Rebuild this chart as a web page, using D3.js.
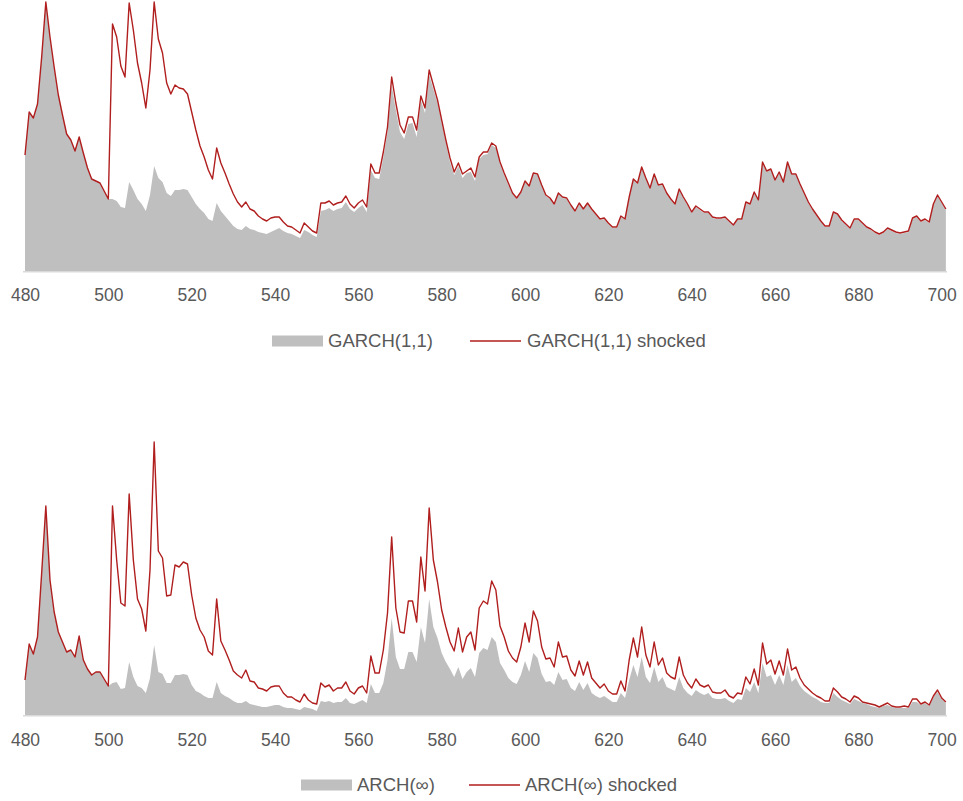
<!DOCTYPE html>
<html>
<head>
<meta charset="utf-8">
<script src="https://cdn.jsdelivr.net/npm/d3@7/dist/d3.min.js"></script>
<style>
  html, body { margin: 0; padding: 0; background: #ffffff; }
  svg { display: block; }
</style>
</head>
<body>
<svg id="chart" width="963" height="801"></svg>
<script>
// ---------------- DATA ----------------
const periodStart = 480;
const periodEnd = 701;
const tickValues = [480, 500, 520, 540, 560, 580, 600, 620, 640, 660, 680, 700];

// Top panel
const garch = [
  116,159,153,167,214,269,234,204,176,156,137,131,120,134,118,103,92,90,88,80,72,
  72,70,64,63,89,81,72,67,60,76,
  105,93,89,78,75,81,81,82,81,74,
  67,62,58,52,50,68,60,55,50,45,
  42,41,45,42,
  41,39,38,37,39,41,43,40,38,37,35,33,41,39,36,34,
  60,61,63,60,62,63,69,62,59,63,66,59,101,93,92,114,139,186,161,139,132,147,148,134,171,158,196,182,168,148,128,109,96,105,93,98,99,90,112,116,117,
  126,123,107,96,86,77,72,78,89,84,
  97,96,85,75,72,66,77,73,72,65,
  59,67,61,67,61,56,51,52,47,43,
  43,54,51,73,91,87,103,92,82,96,
  85,86,77,71,66,81,73,66,58,64,
  61,58,58,53,52,52,53,49,45,51,
  51,68,66,78,70,108,99,101,90,98,
  88,108,96,96,86,77,68,61,55,49,
  44,44,58,56,50,46,42,51,51,47,
  43,41,38,36,38,42,40,38,37,38,
  39,52,54,49,51,48,66,75,68,61
];
const garchShocked = [
  116,159,153,167,214,269,234,204,176,156,137,131,120,134,118,103,92,90,88,80,72,
  247,234,205,194,268,241,208,188,163,201,
  269,232,218,188,177,186,183,182,177,159,
  141,125,114,101,92,123,108,98,87,77,
  69,64,69,62,60,55,52,50,53,54,
  54,49,45,44,41,38,48,44,40,38,
  68,68,70,66,68,69,75,67,63,68,
  71,64,107,98,98,119,144,194,168,146,
  138,154,154,141,175,163,201,186,171,151,
  131,113,99,108,97,100,103,94,114,119,
  119,128,125,109,98,88,78,73,79,90,
  85,98,97,86,76,73,67,78,74,73,
  66,60,68,62,68,62,57,52,53,48,
  44,44,55,52,74,92,88,104,93,83,
  97,86,87,78,72,67,82,74,67,59,
  65,62,59,59,54,53,53,54,50,46,
  52,52,69,67,79,71,109,100,102,91,
  99,89,109,97,97,87,78,69,62,56,
  50,45,45,59,57,51,47,43,52,52,
  48,44,42,39,37,39,43,41,39,38,
  39,40,53,55,50,52,49,67,76,69,62
];

// Bottom panel
const arch = [
  35,71,61,78,142,209,135,103,83,73,63,65,58,79,55,46,40,43,43,36,29,
  32,33,26,27,53,38,29,27,22,37,
  70,43,41,32,32,40,40,41,40,30,
  24,22,19,17,17,33,22,19,17,14,
  12,12,14,11,
  10,9,8,8,9,10,
  10,8,7,7,6,5,8,7,6,4,
  14,13,14,12,13,13,17,12,11,13,
  15,12,31,22,22,32,55,97,58,46,
  46,63,63,53,88,72,116,88,77,62,
  53,46,38,48,36,43,47,38,62,67,
  65,78,73,52,45,37,33,31,40,54,
  43,62,57,41,33,34,30,43,35,36,
  27,24,33,25,32,22,19,17,19,16,
  13,13,22,17,35,50,38,58,38,32,
  48,33,38,28,26,24,38,27,22,19,
  25,22,20,22,17,16,16,17,14,12,
  16,15,27,23,33,22,52,38,40,30,
  40,30,50,33,37,29,24,21,18,16,
  13,12,12,22,18,15,13,11,16,14,
  12,11,9,8,7,9,10,8,7,7,
  7,7,13,13,10,12,9,18,23,16,12
];
const archShocked = [
  35,71,61,78,142,209,135,103,83,73,63,65,58,79,55,46,40,43,43,36,29,
  209,155,112,109,221,155,116,106,84,145,
  273,164,157,119,120,150,148,153,151,120,
  97,85,78,64,60,116,74,65,55,44,
  40,37,45,34,33,27,26,24,28,29,
  29,22,18,18,15,13,21,15,12,11,
  32,28,30,24,27,27,33,24,21,27,
  29,22,59,42,42,65,102,178,107,83,
  82,114,114,93,158,124,207,155,133,105,
  88,73,64,87,63,78,83,65,107,114,
  111,134,125,89,78,64,57,53,68,92,
  73,104,94,68,56,57,48,73,58,59,
  45,39,54,40,53,37,32,27,31,24,
  21,21,34,24,55,77,58,88,60,48,
  73,50,57,42,38,36,58,40,32,27,
  36,30,28,30,23,22,22,25,19,17,
  22,21,38,31,46,30,72,51,55,41,
  54,40,66,45,48,37,30,26,22,19,
  17,14,14,27,23,18,16,13,19,17,
  13,12,11,10,8,10,12,9,8,8,
  9,8,16,16,11,13,10,19,25,17,13
];

const periods = d3.range(periodStart, periodEnd + 1);

// ---------------- STYLE ----------------
const FILL = "#bfbfbf";
const RED = "#b01e1e";
const TEXT = "#595959";
const AXIS = "#d9d9d9";
const FONT = "'Liberation Sans', Arial, sans-serif";

const svg = d3.select("#chart");

const x = d3.scaleLinear()
  .domain([periodStart, periodEnd])
  .range([25, 25 + (periodEnd - periodStart) * (916.7 / 220)]);

function panel(cfg) {
  const y = d3.scaleLinear().domain([0, 270]).range([cfg.base, cfg.base - 270]);
  const g = svg.append("g");
  const fillData = periods.map((p, i) => ({ p, v: cfg.fill[i] }));
  const lineData = periods.map((p, i) => ({ p, v: cfg.line[i] }));

  g.append("path")
    .datum(fillData)
    .attr("fill", FILL)
    .attr("d", d3.area().x(d => x(d.p)).y0(y(0)).y1(d => y(d.v)));

  g.append("path")
    .datum(lineData)
    .attr("fill", "none")
    .attr("stroke", RED)
    .attr("stroke-width", 1.4)
    .attr("stroke-linejoin", "round")
    .attr("d", d3.line().x(d => x(d.p)).y(d => y(d.v)));

  // axis
  const axis = d3.axisBottom(x).tickValues(tickValues).tickSize(0).tickPadding(0).tickFormat(d3.format("d"));
  const ax = g.append("g").attr("transform", `translate(0,${cfg.base})`).call(axis);
  ax.select(".domain").remove();
  ax.selectAll("text")
    .attr("y", cfg.tickY - cfg.base)
    .attr("dy", "0.35em")
    .attr("fill", TEXT)
    .style("font-family", FONT)
    .style("font-size", "17.5px");
  g.append("line")
    .attr("x1", 23).attr("x2", 947)
    .attr("y1", cfg.base + 0.75).attr("y2", cfg.base + 0.75)
    .attr("stroke", AXIS).attr("stroke-width", 1.5);

  // legend
  const lg = g.append("g");
  lg.append("rect")
    .attr("x", cfg.leg.swX).attr("y", cfg.leg.y - 5.5)
    .attr("width", 51).attr("height", 11)
    .attr("fill", FILL);
  lg.append("text")
    .attr("x", cfg.leg.t1X).attr("y", cfg.leg.y).attr("dy", "0.35em")
    .attr("fill", TEXT).style("font-family", FONT).style("font-size", "18.5px")
    .text(cfg.names[0]);
  lg.append("line")
    .attr("x1", cfg.leg.lnX).attr("x2", cfg.leg.lnX + 51)
    .attr("y1", cfg.leg.y).attr("y2", cfg.leg.y)
    .attr("stroke", RED).attr("stroke-width", 1.4);
  lg.append("text")
    .attr("x", cfg.leg.t2X).attr("y", cfg.leg.y).attr("dy", "0.35em")
    .attr("fill", TEXT).style("font-family", FONT).style("font-size", "18.5px")
    .text(cfg.names[1]);
}

panel({
  base: 271, tickY: 295, fill: garch, line: garchShocked,
  names: ["GARCH(1,1)", "GARCH(1,1) shocked"],
  leg: { y: 341, swX: 272, t1X: 328, lnX: 470, t2X: 527 }
});
panel({
  base: 715, tickY: 740, fill: arch, line: archShocked,
  names: ["ARCH(\u221E)", "ARCH(\u221E) shocked"],
  leg: { y: 785, swX: 301, t1X: 357, lnX: 469, t2X: 525 }
});
</script>
</body>
</html>
